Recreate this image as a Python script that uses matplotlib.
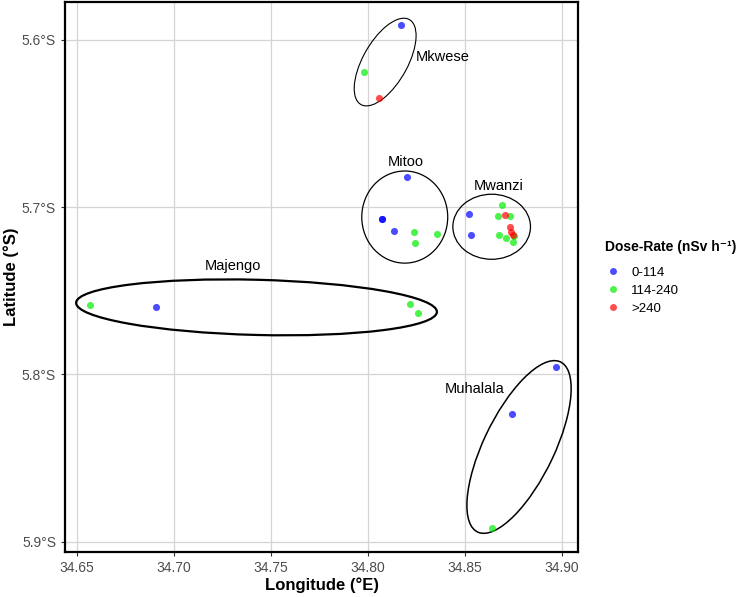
import numpy as np
import matplotlib
matplotlib.use("Agg")
import matplotlib.pyplot as plt
from matplotlib.patches import Ellipse
from matplotlib.lines import Line2D

plt.rcParams["font.family"] = ["Liberation Sans", "DejaVu Sans"]

# pontos medidos (lon °E, lat negativa = °S) e classe de dose
lon = [34.8169, 34.7981, 34.8055,
       34.8201, 34.8071, 34.8071, 34.8134, 34.8236, 34.8241, 34.8354,
       34.8522, 34.8529, 34.8689, 34.8670, 34.8708, 34.8730, 34.8734, 34.8739,
       34.8749, 34.8677, 34.8710, 34.8754, 34.8749,
       34.6567, 34.6906, 34.8215, 34.8259,
       34.8969, 34.8741, 34.8641]
lat = [-5.5908, -5.6193, -5.6346,
       -5.6819, -5.7068, -5.7068, -5.7144, -5.7146, -5.7217, -5.7163,
       -5.7038, -5.7166, -5.6986, -5.7052, -5.7048, -5.7052, -5.7116, -5.7148,
       -5.7168, -5.7166, -5.7184, -5.7175, -5.7208,
       -5.7587, -5.7595, -5.7581, -5.7635,
       -5.7956, -5.8237, -5.8918]
dose = ["0-114", "114-240", ">240",
        "0-114", "0-114", "0-114", "0-114", "114-240", "114-240", "114-240",
        "0-114", "0-114", "114-240", "114-240", ">240", "114-240", ">240", ">240",
        ">240", "114-240", "114-240", "114-240", "114-240",
        "114-240", "0-114", "114-240", "114-240",
        "0-114", "0-114", "114-240"]

classes = ["0-114", "114-240", ">240"]
class_colors = {"0-114": "blue", "114-240": "#00ee00", ">240": "red"}

# elipses das localidades: centro, largura, altura, ângulo (em graus, coords de dados)
site_names = ["Mkwese", "Mitoo", "Mwanzi", "Majengo", "Muhalala"]
ell_lon = [34.8088, 34.8189, 34.8637, 34.7425, 34.8778]
ell_lat = [-5.6132, -5.7059, -5.7117, -5.7599, -5.8434]
ell_w = [0.0567, 0.0443, 0.0400, 0.1860, 0.1104]
ell_h = [0.0235, 0.0551, 0.0389, 0.0330, 0.0370]
ell_ang = [65.3, 0, 0, -1.7, 68.0]
ell_lw = [0.8, 0.9, 0.9, 1.6, 1.1]

label_lon = [34.8383, 34.8196, 34.8674, 34.7303, 34.8548]
label_lat = [-5.6100, -5.6729, -5.6872, -5.7351, -5.8090]

fig = plt.figure(figsize=(7.42, 5.97), dpi=100)
ax = fig.add_axes([0.0876, 0.0754, 0.6914, 0.9212])

for c in classes:
    idx = [i for i, d in enumerate(dose) if d == c]
    ax.scatter([lon[i] for i in idx], [lat[i] for i in idx],
               s=26, color=class_colors[c], alpha=0.7, linewidths=0, zorder=3)

for i in range(len(site_names)):
    ax.add_patch(Ellipse((ell_lon[i], ell_lat[i]), ell_w[i], ell_h[i], angle=ell_ang[i],
                         fill=False, edgecolor="black", lw=ell_lw[i], zorder=2))
    ax.text(label_lon[i], label_lat[i], site_names[i], fontsize=10.5,
            ha="center", va="center", zorder=4)

ax.set_xlim(34.6438, 34.9082)
ax.set_ylim(-5.9062, -5.5773)

xt = [34.65, 34.70, 34.75, 34.80, 34.85, 34.90]
ax.set_xticks(xt)
ax.set_xticklabels([f"{v:.2f}" for v in xt])
yt = [-5.6, -5.7, -5.8, -5.9]
ax.set_yticks(yt)
ax.set_yticklabels([f"{abs(v):.1f}°S" for v in yt])

ax.grid(True, color="#d4d4d4", lw=0.9)
ax.set_axisbelow(True)
ax.tick_params(colors="#333333", labelcolor="#4d4d4d", labelsize=10, length=3, width=0.8)
for sp in ax.spines.values():
    sp.set_linewidth(1.6)
    sp.set_color("black")

ax.set_xlabel("Longitude (°E)", fontsize=12, fontweight="bold", labelpad=2)
ax.set_ylabel("Latitude (°S)", fontsize=12, fontweight="bold")
ax.yaxis.set_label_coords(-0.09, 0.5)

# legenda: título à parte para controlar o espaçamento
fig.text(605 / 742, 1 - 247 / 597, "Dose-Rate (nSv h⁻¹)", fontsize=10,
         fontweight="bold", ha="left", va="center")
handles = [Line2D([], [], marker="o", ls="", markersize=5, markeredgewidth=0,
                  color=class_colors[c], alpha=0.7) for c in classes]
leg = fig.legend(handles, classes, loc="upper left",
                 bbox_to_anchor=(605 / 742, 1 - 266.5 / 597), frameon=False, fontsize=9.5,
                 borderpad=0, borderaxespad=0, handlelength=1.2,
                 handletextpad=0.8, labelspacing=0.45)

fig.savefig("out.png", dpi=100)
